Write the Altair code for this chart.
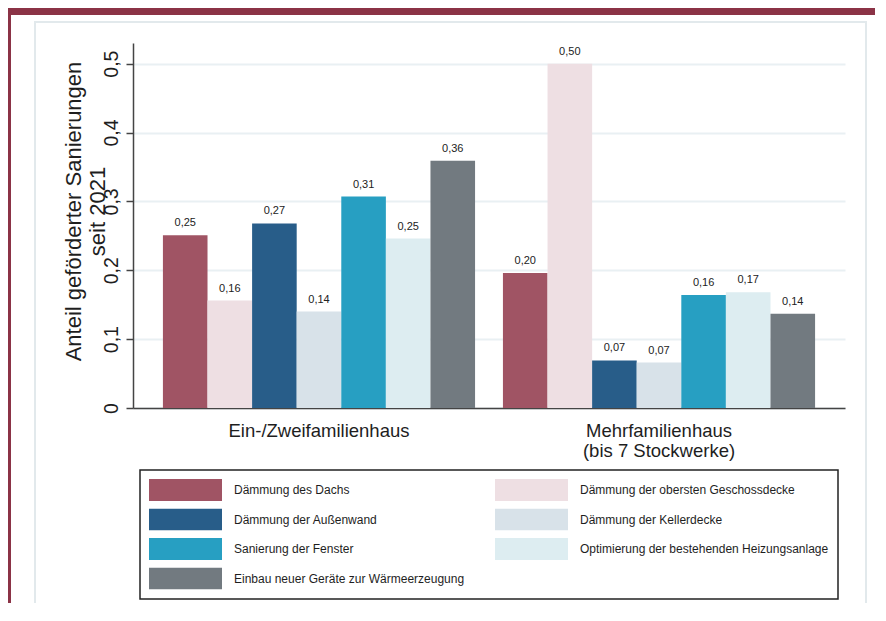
import altair as alt
import pandas as pd

groups = ["Ein-/Zweifamilienhaus", "Mehrfamilienhaus (bis 7 Stockwerke)"]
group_lines = {"Mehrfamilienhaus (bis 7 Stockwerke)": ["Mehrfamilienhaus", "(bis 7 Stockwerke)"]}
measures = [
    "Dämmung des Dachs",
    "Dämmung der obersten Geschossdecke",
    "Dämmung der Außenwand",
    "Dämmung der Kellerdecke",
    "Sanierung der Fenster",
    "Optimierung der bestehenden Heizungsanlage",
    "Einbau neuer Geräte zur Wärmeerzeugung",
]
efh = [0.251, 0.156, 0.268, 0.140, 0.307, 0.246, 0.359]
mfh = [0.196, 0.500, 0.069, 0.066, 0.164, 0.168, 0.137]
colors = ["#A05464", "#EEDFE3", "#285D89", "#D8E2E9", "#279FC2", "#DDEDF1", "#727A80"]
y_ticks = [0, 0.1, 0.2, 0.3, 0.4, 0.5]
y_title = ["Anteil geförderter Sanierungen", "seit 2021"]

rows = []
for g, vals in zip(groups, [efh, mfh]):
    for m, v in zip(measures, vals):
        rows.append({"gruppe": g, "massnahme": m, "anteil": v})
df = pd.DataFrame(rows)

FONT = "Liberation Sans"
TXT = "#1e1e1e"

mg = groups[1]
mg_lines = group_lines[mg]
x_label_expr = f"datum.value == '{mg}' ? ['{mg_lines[0]}', '{mg_lines[1]}'] : datum.label"

x_enc = alt.X(
    "gruppe:N",
    sort=groups,
    scale=alt.Scale(paddingInner=0.082, paddingOuter=0.088),
    axis=alt.Axis(
        title=None, labelAngle=0, labelFontSize=18.5, labelFont=FONT, labelColor=TXT,
        labelPadding=13, ticks=False, tickSize=0, domainColor="#444", domainWidth=1.5,
        labelBaseline="top", labelLineHeight=20, labelLimit=400, labelExpr=x_label_expr,
        grid=False,
    ),
)
xo_enc = alt.XOffset("massnahme:N", sort=measures, scale=alt.Scale(paddingInner=0, paddingOuter=0))
y_enc = alt.Y(
    "anteil:Q",
    scale=alt.Scale(domain=[0, 0.53], nice=False, zero=True),
    axis=alt.Axis(
        values=y_ticks,
        labelExpr="datum.value == 0 ? '0' : replace(format(datum.value, '.1f'), '.', ',')",
        labelAngle=270, labelAlign="center", labelBaseline="alphabetic",
        labelFontSize=19.5, labelFont=FONT, labelColor=TXT, labelPadding=9,
        tickSize=7, tickColor="#444", tickWidth=1.5,
        domainColor="#444", domainWidth=1.5,
        grid=True, gridColor="#e9f0f3", gridWidth=2,
        title=y_title, titleFontSize=22, titleFontWeight="normal", titleFont=FONT,
        titleColor=TXT, titleAngle=270, titleAlign="center", titleBaseline="bottom",
        titleX=-48, titleY=168, titleLineHeight=24,
    ),
)

legend = alt.Legend(
    title=None, orient="none", legendX=7, legendY=427, columns=2, direction="horizontal",
    symbolType="M-1,-0.3H1V0.3H-1Z", symbolSize=5329, clipHeight=22,
    labelOffset=12, rowPadding=7.5, columnPadding=30, padding=9,
    strokeColor="#222", fillColor="white", labelFontSize=12, labelFont=FONT,
    labelColor=TXT, labelLimit=400, symbolStrokeWidth=0, symbolOpacity=1,
)

base = alt.Chart(df)

bars = base.mark_bar().encode(
    x=x_enc,
    xOffset=xo_enc,
    y=y_enc,
    color=alt.Color("massnahme:N", sort=measures,
                    scale=alt.Scale(domain=measures, range=colors), legend=legend),
)

labels = base.transform_calculate(
    lbl="replace(format(datum.anteil, '.2f'), '.', ',')"
).mark_text(dy=-9, baseline="alphabetic", fontSize=11, font=FONT, color="#222").encode(
    x=x_enc, xOffset=xo_enc, y=y_enc, text="lbl:N"
)

one = alt.Data(values=[{"k": 1}])
red_top = alt.Chart(one).mark_rect(color="#8B3346").encode(
    x=alt.value(-125), x2=alt.value(745), y=alt.value(-35), y2=alt.value(-28)
)
red_left = alt.Chart(one).mark_rect(color="#8B3346").encode(
    x=alt.value(-125), x2=alt.value(-122), y=alt.value(-35), y2=alt.value(600)
)
frame = alt.Chart(one).mark_rect(filled=False, stroke="#e2e9ec", strokeWidth=2).encode(
    x=alt.value(-98), x2=alt.value(733), y=alt.value(-21), y2=alt.value(640)
)

chart = alt.layer(red_top, red_left, frame, bars, labels).properties(
    width=712,
    height=365,
    autosize=alt.AutoSizeParams(type="none"),
    padding={"left": 125, "top": 35, "right": 30, "bottom": 195},
).configure_view(stroke=None).configure_legend(strokeWidth=1.5)

chart.save("out.html", embed_options={"renderer": "svg", "actions": False})
